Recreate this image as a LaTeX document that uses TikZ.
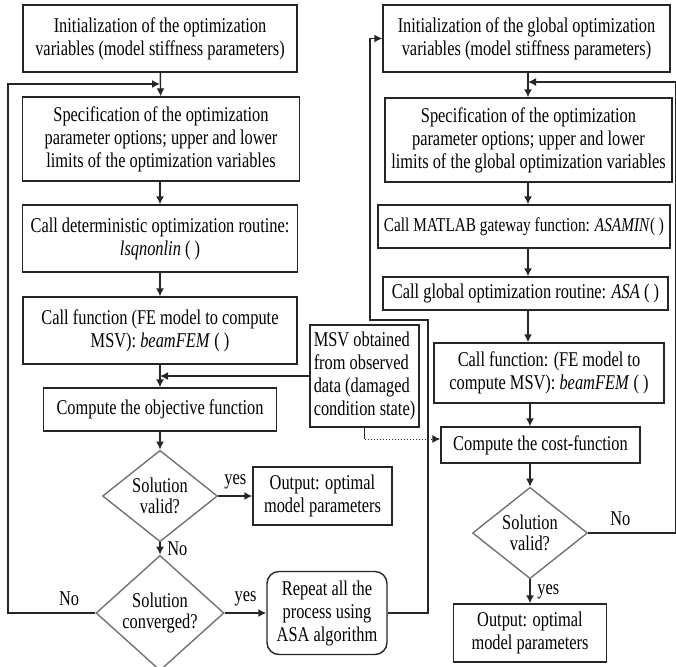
\documentclass[tikz,border=0pt]{standalone}
\usepackage{fontspec}
\setmainfont{Liberation Serif}[FakeStretch=0.78]
\usetikzlibrary{arrows.meta,shapes.geometric}

\begin{document}
\begin{tikzpicture}[x=0.5pt,y=-0.5pt,>={Latex[length=4pt,width=4pt]},
    line width=0.7pt,draw=black!85,
    every node/.style={font=\fontsize{10.5}{11.5}\selectfont},
    block/.style={draw=black!85,rectangle,align=center,inner sep=1pt},
    decision/.style={draw=black!55,diamond,align=center,inner sep=0pt,
      font=\fontsize{10.5}{10.5}\selectfont}]
  \useasboundingbox (0,0) rectangle (676,666);

  % left column
  \node[block,minimum width=137pt,minimum height=33.5pt] (L1) at (160,38.5)
    {Initialization of the optimization\\variables (model stiffness parameters)};
  \node[block,minimum width=138.5pt,minimum height=42pt] (L2) at (161,139)
    {Specification of the optimization\\parameter options; upper and lower\\limits of the optimization variables};
  \node[block,minimum width=137.5pt,minimum height=33.5pt] (L3) at (160,238.5)
    {Call deterministic optimization routine:\\\textit{lsqnonlin} ( )};
  \node[block,minimum width=137pt,minimum height=33.5pt] (L4) at (160,330.5)
    {Call function (FE model to compute\\MSV): \textit{beamFEM} ( )};
  \node[block,minimum width=116.5pt,minimum height=21.5pt] (L5) at (160,409.5)
    {Compute the objective function};
  \node[decision,minimum width=57.5pt,minimum height=40.5pt] (D1) at (160,496)
    {Solution\\valid?};
  \node[block,minimum width=69.5pt,minimum height=29pt] (O1) at (322.5,496)
    {Output: optimal\\model parameters};
  \node[decision,minimum width=64pt,minimum height=49.5pt] (D2) at (160,613)
    {Solution\\converged?};
  \node[block,rounded corners=6pt,minimum width=60pt,minimum height=41.5pt] (Rep) at (327,613)
    {Repeat all the\\process using\\ASA algorithm};
  \node[block,align=left,minimum width=54.5pt,minimum height=51pt] (MSV) at (364.5,376)
    {MSV obtained\\from observed\\data (damaged\\condition state)};

  % right column
  \node[block,minimum width=143.5pt,minimum height=33.5pt] (R1) at (526.5,38.5)
    {Initialization of the global optimization\\variables (model stiffness parameters)};
  \node[block,minimum width=143.5pt,minimum height=42pt] (R2) at (528.5,140)
    {Specification of the optimization\\parameter options; upper and lower\\limits of the global optimization variables};
  \node[block,minimum width=146pt,minimum height=21.5pt,font=\fontsize{9.8}{11.5}\selectfont] (R3) at (524,226.5)
    {Call MATLAB gateway function: \textit{ASAMIN}( )};
  \node[block,minimum width=142.5pt,minimum height=16.5pt] (R4) at (525.5,293.5)
    {Call global optimization routine: \textit{ASA} ( )};
  \node[block,minimum width=115pt,minimum height=30pt] (R5) at (549,373)
    {Call function: (FE model to\\compute MSV): \textit{beamFEM} ( )};
  \node[block,minimum width=99.5pt,minimum height=18pt] (R6) at (540.5,445)
    {Compute the cost-function};
  \node[decision,minimum width=57.5pt,minimum height=45.5pt] (DR) at (530,533)
    {Solution\\valid?};
  \node[block,minimum width=76.5pt,minimum height=29pt] (OR) at (530,633)
    {Output: optimal\\model parameters};

  \coordinate (Ljoin) at (160,84);
  \coordinate (Rjoin) at (528,82);
  \coordinate (msvturn) at (364.5,439);

  \path[->] (L1) edge (L2)
    (L2.south -| L1) edge (L3)
    (L3) edge (L4)
    (L4) edge (L5)
    (L5) edge (D1)
    (D1) edge node[right]{No} (D2)
    (D1) edge node[above]{yes} (O1)
    (D2) edge node[above]{yes} (Rep);

  \draw[->] (D2.west) -- node[above,pos=0.3]{No} (8,613) |- (Ljoin);
  \draw[->] (MSV.west) -- (MSV.west -| L4);
  \draw[->] (Rep.east) -- (428,613) -- (428,320) -- (370,320) |- (R1.west);
  \draw (MSV.south) -- (msvturn);
  \draw[->,densely dotted,line width=0.5pt] (msvturn) -- (msvturn -| R6.west);

  \draw[->] (R1.south -| Rjoin) -- (R2.north -| Rjoin);
  \draw[->] (R2.south -| Rjoin) -- (R3.north -| Rjoin);
  \draw[->] (R3.south -| Rjoin) -- (R4.north -| Rjoin);
  \draw[->] (R4.south -| Rjoin) -- (R5.north -| Rjoin);
  \draw[->] (R5.south -| DR) -- (R6.north -| DR);
  \draw[->] (R6.south -| DR) -- (DR.north);
  \draw[->] (DR) -- node[right]{yes} (OR);
  \draw[->] (DR.east) -- node[above,pos=0.37]{No} (675.3,533) |- (Rjoin);
\end{tikzpicture}
\end{document}
